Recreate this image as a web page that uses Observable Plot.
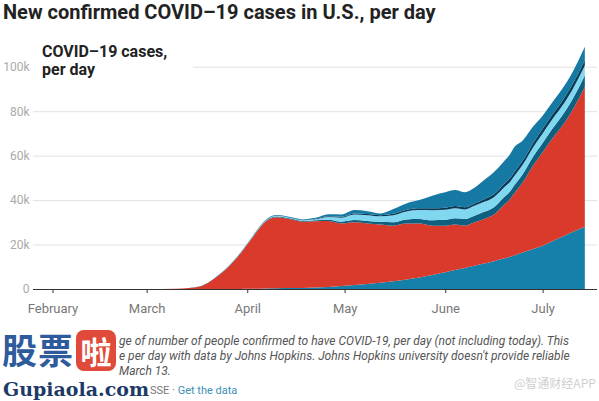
<!DOCTYPE html>
<html>
<head>
<meta charset="utf-8">
<script src="https://cdn.jsdelivr.net/npm/d3@7"></script>
<script src="https://cdn.jsdelivr.net/npm/@observablehq/plot@0.6"></script>
<style>
  html, body { margin: 0; padding: 0; background: #fff; }
  #wrap { position: relative; width: 599px; height: 401px; overflow: hidden; font-family: Roboto, "Noto Sans", sans-serif; }
  #title { position: absolute; left: 3px; top: 0; font-size: 20px; line-height: 24px; font-weight: 700; color: #222; white-space: nowrap; }
  #chart { position: absolute; left: 0; top: 30px; }
  #legend { position: absolute; left: 33px; top: 40px; width: 151px; height: 44px; padding: 2.5px 0 0 9px; background: #fff; font-size: 16px; line-height: 18px; font-weight: 700; color: #222; }
  .fn { position: absolute; left: 119px; height: 15px; font-size: 12px; line-height: 15px; font-style: italic; color: #555; white-space: nowrap; }
  .src { left: 150px; font-style: normal; font-size: 11px; color: #777; }
  .src a { color: #3a8fb7; text-decoration: none; }
  #wm { position: absolute; left: 0; top: 328px; width: 116px; height: 44px; }
  #wm .gp { position: absolute; left: 2px; top: 0px; font-family: "Noto Sans CJK SC", sans-serif; font-weight: 700; font-size: 35px; line-height: 42px; color: #2d5b9b; letter-spacing: 1px; }
  #wm .la { position: absolute; left: 76px; top: 2px; width: 40px; height: 41px; border-radius: 8px; background: #e04a3b; color: #fff; font-family: "Noto Sans CJK SC", sans-serif; font-weight: 700; font-size: 31px; line-height: 41px; text-align: center; }
  #url { position: absolute; left: 3px; top: 380px; font-family: "DejaVu Serif", "Liberation Serif", serif; font-weight: 700; font-size: 19px; line-height: 19px; color: #1d3a66; white-space: nowrap; }
  #wm2 { position: absolute; left: 514px; top: 375px; font-family: "Noto Sans CJK SC", sans-serif; font-size: 12px; line-height: 15px; color: #cfcfcf; white-space: nowrap; }
</style>
</head>
<body>
<div id="wrap">
  <div id="title">New confirmed COVID–19 cases in U.S., per day</div>
  <div id="chart"></div>
  <div id="legend">COVID–19 cases,<br>per day</div>
  <div class="fn" style="top:334px">ge of number of people confirmed to have COVID-19, per day (not including today). This</div>
  <div class="fn" style="top:349px">e per day with data by Johns Hopkins. Johns Hopkins university doesn't provide reliable</div>
  <div class="fn" style="top:364px">March 13.</div>
  <div class="fn src" style="top:383px">SSE · <a>Get the data</a></div>
  <div id="wm"><div class="gp">股票</div><div class="la">啦</div></div>
  <div id="url">Gupiaola.com</div>
  <div id="wm2">@智通财经APP</div>
</div>
<script>
// Dates of the readings (UTC)
const dates = ["2020-03-01","2020-03-10","2020-03-14","2020-03-18","2020-03-22","2020-03-26","2020-03-30",
  "2020-04-01","2020-04-03","2020-04-05","2020-04-07","2020-04-10","2020-04-14","2020-04-18","2020-04-22","2020-04-26","2020-04-30",
  "2020-05-04","2020-05-08","2020-05-12","2020-05-16","2020-05-20","2020-05-24","2020-05-28",
  "2020-06-01","2020-06-04","2020-06-07","2020-06-10","2020-06-13","2020-06-16","2020-06-19","2020-06-21","2020-06-22","2020-06-25","2020-06-28",
  "2020-07-01","2020-07-04","2020-07-07","2020-07-10","2020-07-14"];

// Stacked layers, bottom to top (thousands of cases per day)
const layer1 = [0,0,0,0,0,0,0.05, 0.1,0.1,0.15,0.2,0.3,0.4,0.5,0.7,0.9,1.3, 1.8,2.3,2.8,3.5,4.3,5.2,6.3, 7.5,8.5,9.5,10.5,11.5,12.5,13.7,14.5,15,16.5,18, 19.5,21.5,23.5,25.5,28];
const layer2 = [0,0.1,0.5,1.4,4.8,9.7,16.05, 19.9,23.8,27.65,30.5,32,31.1,29.8,29.8,29.7,28.2, 28.2,27.2,26.2,25,25.2,24.3,22.2, 21,20.5,19,19.5,20,21,24,26,27.5,31.7,37.4, 42,46.2,49.8,54.5,63];
const layer3 = [0,0,0,0.05,0.1,0.1,0.15, 0.15,0.2,0.2,0.25,0.3,0.3,0.3,0.4,0.6,0.8, 1.0,1.1,1.2,1.5,1.8,2.0,2.4, 2.6,2.8,3.0,3.0,3.2,3.3,3.5,3.5,3.6,3.8,4.0, 4.2,4.4,4.6,4.8,5.0];
const layer4 = [0,0,0,0.05,0.05,0.1,0.1, 0.15,0.15,0.2,0.2,0.3,0.3,0.3,0.5,1.2,1.8, 2.5,2.6,2.5,3.2,3.6,4.0,4.5, 4.5,4.5,4.3,4.5,4.5,4.5,4.3,4.3,4.2,4.2,4.2, 4.3,4.3,4.4,4.4,4.5];
const layer5 = [0,0,0,0,0,0.05,0.05, 0.05,0.05,0.1,0.1,0.1,0.1,0.1,0.2,0.3,0.4, 0.5,0.5,0.5,0.6,0.7,0.8,0.9, 1.0,1.0,1.0,1.0,1.2,1.3,1.5,1.6,1.7,1.8,1.9, 2.0,2.1,2.2,2.3,2.5];
const layer6 = [0,0,0,0,0.05,0.05,0.1, 0.15,0.2,0.2,0.25,0.3,0.3,0.3,0.4,0.9,1.0, 1.5,1.3,0.8,2.2,2.9,3.7,5.7, 6.9,7.2,6.7,7.0,8.6,10.0,10.3,10.8,11.2,9.0,7.5, 6.0,5.5,5.5,5.5,6.0];

const layerNames = ["layer1","layer2","layer3","layer4","layer5","layer6"];
const layerColors = ["#1581aa","#da3a2b","#0f5f80","#80d8f0","#0b3a56","#1679a3"];

const monthTicks = ["2020-02-01","2020-03-01","2020-04-01","2020-05-01","2020-06-01","2020-07-01"];
const monthLabels = ["February","March","April","May","June","July"];
const yTicks = [0,20,40,60,80,100];

const layers = [layer1, layer2, layer3, layer4, layer5, layer6];
const rows = layers.flatMap((vals, k) => dates.map((d, i) => ({date: new Date(d), value: vals[i], series: layerNames[k]})));
const tickDates = monthTicks.map(d => new Date(d));

const chart = Plot.plot({
  width: 599,
  height: 300,
  marginLeft: 33,
  marginRight: 2,
  marginTop: 14.5,
  marginBottom: 41,
  style: {fontFamily: "Roboto, sans-serif", background: "transparent"},
  x: {type: "utc", domain: [new Date(Date.UTC(2020,0,26)), new Date(Date.UTC(2020,6,17,18))]},
  y: {domain: [0, 110]},
  color: {domain: layerNames, range: layerColors},
  marks: [
    Plot.gridY(yTicks.filter(d => d > 0), {stroke: "#e2e2e2", strokeOpacity: 1}),
    Plot.areaY(rows, {x: "date", y: "value", z: "series", fill: "series", curve: "monotone-x"}),
    Plot.ruleY([0], {stroke: "#333", strokeWidth: 1}),
    Plot.axisY(yTicks, {tickSize: 0, tickPadding: 4, tickFormat: d => d === 0 ? "0" : d + "k", fill: "#aaa", fontSize: 12, label: null}),
    Plot.axisX(tickDates, {tickSize: 4, tickPadding: 10, stroke: "#333", fill: "#777", fontSize: 13, tickFormat: (d, i) => monthLabels[i], label: null})
  ]
});
document.getElementById("chart").appendChild(chart);
</script>
</body>
</html>
